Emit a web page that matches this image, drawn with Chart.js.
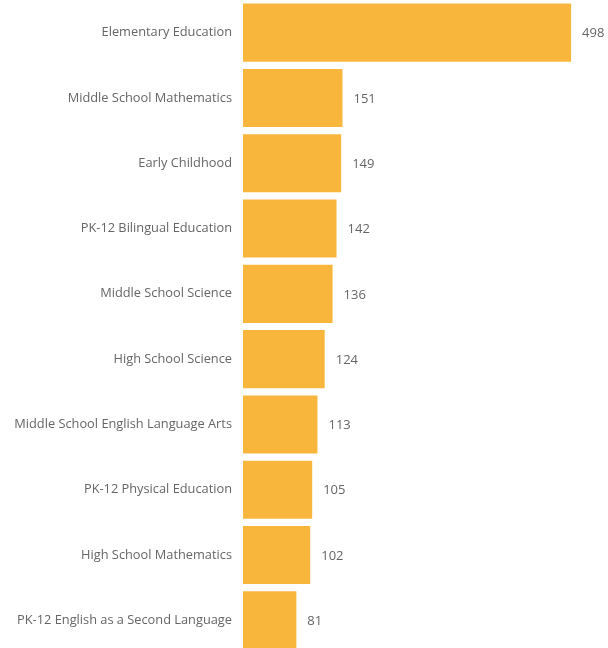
<!DOCTYPE html>
<html>
<head>
<meta charset="utf-8">
<script src="https://cdn.jsdelivr.net/npm/chart.js@4/dist/chart.umd.min.js"></script>
<style>
  html, body { margin: 0; padding: 0; background: #fff; overflow: hidden; }
  #wrap { position: relative; width: 608px; height: 653px; }
</style>
</head>
<body>
<div id="wrap"><canvas id="subjectChart"></canvas></div>
<script>
const subjects = [
    'Elementary Education',
    'Middle School Mathematics',
    'Early Childhood',
    'PK-12 Bilingual Education',
    'Middle School Science',
    'High School Science',
    'Middle School English Language Arts',
    'PK-12 Physical Education',
    'High School Mathematics',
    'PK-12 English as a Second Language'
];
const counts = [498, 151, 149, 142, 136, 124, 113, 105, 102, 81];

const labelFont = "'Segoe UI', 'Open Sans', sans-serif";

// writes each bar's count just past its end
const valueLabels = {
    id: 'valueLabels',
    afterDatasetsDraw(chart) {
        const ctx = chart.ctx;
        const meta = chart.getDatasetMeta(0);
        ctx.save();
        ctx.font = '13px ' + labelFont;
        ctx.fillStyle = '#666666';
        ctx.textAlign = 'left';
        ctx.textBaseline = 'middle';
        meta.data.forEach((bar, i) => {
            ctx.fillText(String(chart.data.datasets[0].data[i]), bar.x + 11, bar.y + 1);
        });
        ctx.restore();
    }
};

const ctx = document.getElementById('subjectChart').getContext('2d');
new Chart(ctx, {
    type: 'bar',
    data: {
        labels: subjects,
        datasets: [{
            data: counts,
            backgroundColor: '#F8B73C',
            borderWidth: 0,
            barPercentage: 0.89,
            categoryPercentage: 1
        }]
    },
    options: {
        indexAxis: 'y',
        maintainAspectRatio: false,
        responsive: true,
        animation: false,
        layout: { padding: 0 },
        plugins: {
            legend: false,
            tooltip: false
        },
        scales: {
            x: {
                display: false,
                min: 0,
                max: 554
            },
            y: {
                afterFit(scale) {
                    // fixed gutter for the names, bars run edge to edge vertically
                    scale.width = 243;
                    scale.paddingTop = 0;
                    scale.paddingBottom = 0;
                },
                grid: { display: false, drawTicks: false },
                border: { display: false },
                ticks: {
                    padding: 11,
                    color: '#666666',
                    font: { family: labelFont, size: 12.8 }
                }
            }
        }
    },
    plugins: [valueLabels]
});
</script>
</body>
</html>
